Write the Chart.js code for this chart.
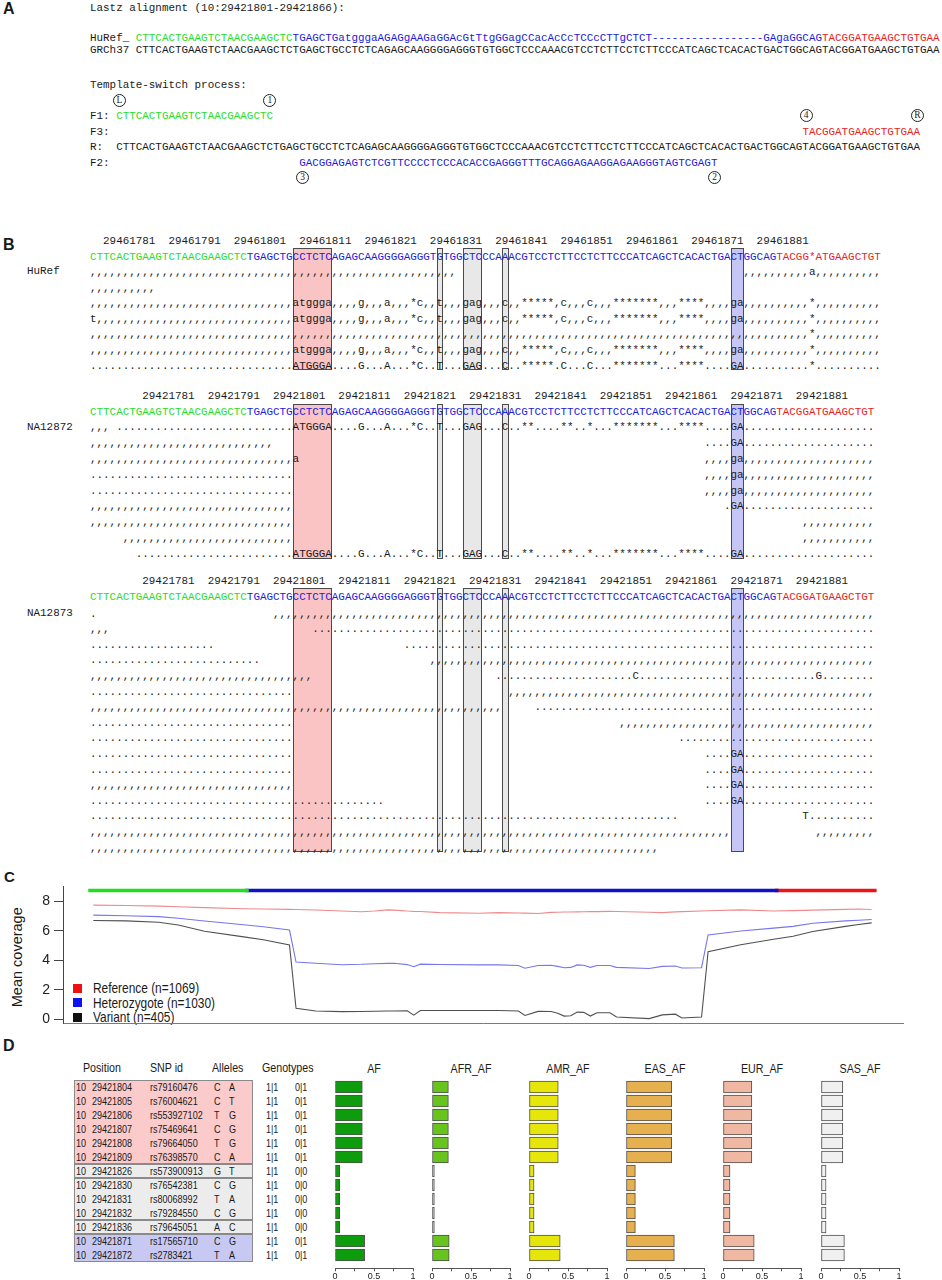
<!DOCTYPE html>
<html><head><meta charset="utf-8">
<script src="https://cdn.jsdelivr.net/npm/chart.js@4.4.1/dist/chart.umd.min.js"></script>
<style>
html,body{margin:0;padding:0;background:#fff;}
body{width:942px;height:1280px;position:relative;overflow:hidden;}
.t{position:absolute;white-space:pre;font-family:"Liberation Mono","DejaVu Sans Mono",monospace;font-size:10.9px;line-height:14px;color:#1a1a1a;z-index:2;}
.s{position:absolute;white-space:nowrap;font-family:"Liberation Sans",Arial,sans-serif;color:#1a1a1a;z-index:2;}
.box{position:absolute;box-sizing:border-box;z-index:1;}
.circ{position:absolute;width:13px;height:13px;border:1px solid #222;border-radius:50%;box-sizing:border-box;font:9.5px "Liberation Serif",serif;text-align:center;line-height:11px;color:#222;z-index:2;}
canvas{position:absolute;z-index:3;}
</style></head><body>
<script>
// ---------------- DATA ----------------
// Panel A
const lastzTitle = 'Lastz alignment (10:29421801-29421866):';
const hurefLeft = 'CTTCACTGAAGTCTAACGAAGCTC';
const hurefMid = 'TGAGCTGatgggaAGAGgAAGaGGAcGtTtgGGagCCacAcCcTCCcCTTgCTCT-----------------GAgaGGCAG';
const hurefRight = 'TACGGATGAAGCTGTGAA';
const grch37Seq = 'CTTCACTGAAGTCTAACGAAGCTCTGAGCTGCCTCTCAGAGCAAGGGGAGGGTGTGGCTCCCAAACGTCCTCTTCCTCTTCCCATCAGCTCACACTGACTGGCAGTACGGATGAAGCTGTGAA';
const f1Seq = 'CTTCACTGAAGTCTAACGAAGCTC';
const f3Seq = 'TACGGATGAAGCTGTGAA';
const f2Seq = 'GACGGAGAGTCTCGTTCCCCTCCCACACCGAGGGTTTGCAGGAGAAGGAGAAGGGTAGTCGAGT';
const f3Col = 105, f2Col = 28;
const circleMarks = [['L',0,100],['1',23,100],['4',105,115],['R',122,115],['3',28,177],['2',91,177]];

// Panel B
const refLeft = 'CTTCACTGAAGTCTAACGAAGCTC';
const refMid = 'TGAGCTGCCTCTCAGAGCAAGGGGAGGGTGTGGCTCCCAAACGTCCTCTTCCTCTTCCCATCAGCTCACACTGACTGGCAG';
const refRightHuRef = 'TACGG*ATGAAGCTGT';
const refRightNA = 'TACGGATGAAGCTGT';
const hurefTicks = [29461781,29461791,29461801,29461811,29461821,29461831,29461841,29461851,29461861,29461871,29461881];
const naTicks = [29421781,29421791,29421801,29421811,29421821,29421831,29421841,29421851,29421861,29421871,29421881];
const boxCols = [[31,6,'#fbc4c4'],[53,1,'#e8e8e8'],[57,3,'#e8e8e8'],[63,1,'#e8e8e8'],[98,2,'#c6c6f6']];
const r = (c,n) => c.repeat(n);
const midLower = ',,,,g,,,a,,,*c,,t,,,gag,,,c,,*****,c,,,c,,,*******,,,****,,,,ga';
const midUpper = '....G...A...*C..T...GAG...C..*****.C...C...*******...****....GA';
const midNA = '....G...A...*C..T...GAG...C..**....**..*...*******...****....GA';
const hurefRows = [
  r(',',56)+r(' ',44)+r(',',10)+'a'+r(',',10),
  r(',',10),
  r(',',31)+'atggga'+midLower+r(',',10)+'*'+r(',',10),
  't'+r(',',30)+'atggga'+midLower+r(',',10)+'*'+r(',',10),
  r(',',110)+'*'+r(',',10),
  r(',',31)+'atggga'+midLower+r(',',10)+'*'+r(',',10),
  r('.',31)+'ATGGGA'+midUpper+r('.',10)+'*'+r('.',10)
];
const na12872Rows = [
  ',,, '+r('.',27)+'ATGGGA'+midNA+r('.',20),
  r(',',28)+r(' ',66)+'....GA'+r('.',20),
  r(',',31)+'a'+r(' ',62)+',,,,ga'+r(',',20),
  r('.',31)+r(' ',63)+',,,,ga'+r(',',20),
  r('.',31)+r(' ',63)+',,,,ga'+r(',',20),
  r(',',31)+r(' ',66)+'.GA'+r('.',20),
  r(',',31)+r(' ',78)+r(',',11),
  r(' ',5)+r(',',26)+r(' ',78)+r(',',11),
  r(' ',7)+r('.',24)+'ATGGGA'+midNA+r('.',20)
];
const na12873Rows = [
  '.'+r(' ',27)+r(',',92),
  ',,,'+r(' ',31)+r('.',86),
  r('.',19)+r(' ',29)+r('.',72),
  r('.',26)+r(' ',26)+r(',',68),
  r(',',34)+r(' ',28)+r('.',21)+'C'+r('.',27)+'G'+r('.',8),
  r('.',31)+r(' ',33)+r(',',56),
  r(',',63)+r(' ',5)+r('.',52),
  r('.',31)+r(' ',50)+r(',',39),
  r('.',31)+r(' ',59)+r('.',30),
  r('.',31)+r(' ',63)+'....GA'+r('.',20),
  r('.',31)+r(' ',63)+'....GA'+r('.',20),
  r(',',31)+r(' ',63)+'....GA'+r('.',20),
  r('.',45)+r(' ',49)+'....GA'+r('.',20),
  r('.',90)+r(' ',19)+'T'+r('.',10),
  r(',',98)+r(' ',13)+r(',',9),
  r(',',87)
];

// Panel C (x = base offset from 29421781)
const covOffsets = [0,5,10,13,17,23,26,30,31,34,38,41,43,45,46,48,49,50,53,59,62,65,66,68,70,71,72,73,74,75,76,77,79,80,85,87,89,90,93,94,99,104,107,110,115,117,119];
const refCov = [7.73,7.71,7.66,7.62,7.56,7.49,7.47,7.44,7.43,7.40,7.33,7.28,7.33,7.41,7.39,7.33,7.31,7.30,7.22,7.18,7.22,7.20,7.19,7.16,7.24,7.25,7.26,7.26,7.27,7.28,7.29,7.29,7.31,7.30,7.25,7.22,7.27,7.29,7.33,7.35,7.41,7.33,7.36,7.39,7.44,7.47,7.43];
const hetCov = [7.05,7.01,6.95,6.84,6.65,6.40,6.26,6.04,3.87,3.79,3.69,3.72,3.76,3.78,3.79,3.70,3.56,3.73,3.71,3.68,3.68,3.64,3.45,3.64,3.66,3.58,3.49,3.51,3.68,3.66,3.51,3.64,3.64,3.51,3.43,3.58,3.60,3.47,3.49,5.71,5.98,6.17,6.29,6.50,6.66,6.71,6.76];
const varCov = [6.69,6.66,6.57,6.38,5.96,5.58,5.38,5.03,0.74,0.55,0.51,0.52,0.54,0.55,0.55,0.57,0.27,0.59,0.59,0.59,0.59,0.55,0.25,0.53,0.52,0.40,0.21,0.23,0.48,0.46,0.21,0.44,0.44,0.15,0.04,0.29,0.34,0.08,0.15,4.57,5.05,5.42,5.62,5.94,6.29,6.42,6.53];
const segLengths = [24, 81, 15];
const segColors = ['#22dd22', '#1010c8', '#ee1414'];
const segBarLevel = 8.73;
const legendLabels = ['Reference (n=1069)','Heterozygote (n=1030)','Variant (n=405)'];
const legendColors = ['#ee1111','#1111ee','#111111'];
const lineColors = ['#ee8a8a','#7676ee','#505050'];
const yTicksC = [0,2,4,6,8];

// Panel D
const snpPos = [29421804,29421805,29421806,29421807,29421808,29421809,29421826,29421830,29421831,29421832,29421836,29421871,29421872];
const snpIds = ['rs79160476','rs76004621','rs553927102','rs75469641','rs79664050','rs76398570','rs573900913','rs76542381','rs80068992','rs79284550','rs79645051','rs17565710','rs2783421'];
const refAl = ['C','C','T','C','T','C','G','C','T','C','A','C','T'];
const altAl = ['A','T','G','G','G','A','T','G','A','G','C','G','A'];
const gt1 = ['1|1','1|1','1|1','1|1','1|1','1|1','1|1','1|1','1|1','1|1','1|1','1|1','1|1'];
const gt2 = ['0|1','0|1','0|1','0|1','0|1','0|1','0|0','0|0','0|0','0|0','0|0','0|1','0|1'];
const snpGroups = [[0,6,'#fbcaca'],[6,1,'#ececec'],[7,3,'#ececec'],[10,1,'#ececec'],[11,2,'#c7c9f3']];
const afNames = ['AF','AFR_AF','AMR_AF','EAS_AF','EUR_AF','SAS_AF'];
const afColors = ['#0c9c0c','#66c41c','#e6e60a','#e6b04e','#f0b8a2','#f0f0f0'];
const afAll = [0.35,0.35,0.35,0.35,0.35,0.35,0.06,0.06,0.06,0.06,0.06,0.38,0.38];
const afAfr = [0.21,0.21,0.21,0.21,0.21,0.21,0.03,0.03,0.03,0.03,0.03,0.22,0.22];
const afAmr = [0.375,0.375,0.375,0.375,0.375,0.375,0.065,0.065,0.065,0.065,0.065,0.40,0.40];
const afEas = [0.585,0.585,0.585,0.585,0.585,0.585,0.12,0.12,0.12,0.12,0.12,0.62,0.62];
const afEur = [0.37,0.37,0.37,0.37,0.37,0.37,0.09,0.09,0.09,0.09,0.09,0.40,0.40];
const afSas = [0.28,0.28,0.28,0.28,0.28,0.28,0.065,0.065,0.065,0.065,0.065,0.30,0.30];
const afSeries = [afAll, afAfr, afAmr, afEas, afEur, afSas];

// ---------------- DRAW ----------------
const root = document.body;
const CW = 6.54, X0 = 90;
const GREEN = '#2bdc2b', BLUE = '#1c1cd8', RED = '#e82222', INK = '#1a1a1a';
const SANS = '"Liberation Sans",Arial,sans-serif';

function mono(x, yc, parts) {
  const d = document.createElement('div');
  d.className = 't';
  d.style.left = x + 'px';
  d.style.top = (yc - 6.3) + 'px';
  if (typeof parts === 'string') parts = [[parts, INK]];
  for (const [s, c] of parts) { const sp = document.createElement('span'); sp.textContent = s; sp.style.color = c; d.appendChild(sp); }
  root.appendChild(d);
}
function sans(x, yc, text, fs, o = {}) {
  const d = document.createElement('div');
  d.className = 's';
  d.style.fontSize = fs + 'px'; d.style.lineHeight = fs + 'px';
  d.style.top = (yc - 0.49 * fs) + 'px';
  if (o.bold) d.style.fontWeight = 'bold';
  const tf = [];
  if (o.center) { d.style.left = (x - 100) + 'px'; d.style.width = '200px'; d.style.textAlign = 'center'; d.style.transformOrigin = 'center center'; }
  else { d.style.left = x + 'px'; d.style.transformOrigin = 'left center'; }
  if (o.rotate) tf.push('rotate(-90deg)');
  if (o.narrow) tf.push('scaleX(' + o.narrow + ')');
  if (tf.length) d.style.transform = tf.join(' ');
  d.textContent = text;
  root.appendChild(d);
  return d;
}
function rect(x, y, w, h, fill, border, bw) {
  const d = document.createElement('div');
  d.className = 'box';
  Object.assign(d.style, { left: x + 'px', top: y + 'px', width: w + 'px', height: h + 'px', background: fill, border: bw + 'px solid ' + border });
  root.appendChild(d);
}
function circ(ch, col, yc) {
  const d = document.createElement('div');
  d.className = 'circ';
  d.style.left = (X0 + (4 + col + 0.5) * CW - 6.5) + 'px';
  d.style.top = (yc - 6.5) + 'px';
  d.textContent = ch;
  root.appendChild(d);
}

// Panel labels
sans(3, 9, 'A', 16, {bold: true});
sans(3, 245, 'B', 16, {bold: true});
sans(4, 876, 'C', 15, {bold: true});
sans(3, 1046, 'D', 16, {bold: true});

// Panel A
mono(X0, 7, lastzTitle);
mono(X0, 37.3, [['HuRef_ ', INK], [hurefLeft, GREEN], [hurefMid, BLUE], [hurefRight, RED]]);
mono(X0, 49.3, 'GRCh37 ' + grch37Seq);
mono(X0, 84.3, 'Template-switch process:');
mono(X0, 115.7, [['F1: ', INK], [f1Seq, GREEN]]);
mono(X0, 131.7, [['F3: ', INK], [' '.repeat(f3Col), INK], [f3Seq, RED]]);
mono(X0, 146.7, 'R:  ' + grch37Seq);
mono(X0, 162.7, [['F2: ', INK], [' '.repeat(f2Col), INK], [f2Seq, BLUE]]);
circleMarks.forEach(([c, col, y]) => circ(c, col, y));

// Panel B
function block(cfg) {
  let tickStr = ' '.repeat(cfg.tickCol) + cfg.ticks.map(String).join('  ');
  mono(X0, cfg.tickY, tickStr);
  const top = cfg.refY - 8;
  const bottom = cfg.rowY0 + (cfg.rows.length - 1) * cfg.pitch + 5.5;
  for (const [c, n, fill] of boxCols) rect(X0 + c * CW, top, n * CW, bottom - top, fill, '#4a4a4a', 1.5);
  mono(X0, cfg.refY, [[refLeft, GREEN], [refMid, BLUE], [cfg.refRight, RED]]);
  mono(27, cfg.labelY, cfg.label);
  cfg.rows.forEach((row, i) => mono(X0, cfg.rowY0 + i * cfg.pitch, row));
}
block({ticks: hurefTicks, tickCol: 2, tickY: 240, refY: 256, refRight: refRightHuRef, label: 'HuRef', labelY: 270, rows: hurefRows, rowY0: 271.3, pitch: 15.6});
block({ticks: naTicks, tickCol: 8, tickY: 395, refY: 411.5, refRight: refRightNA, label: 'NA12872', labelY: 426.5, rows: na12872Rows, rowY0: 426.7, pitch: 15.8});
block({ticks: naTicks, tickCol: 8, tickY: 580, refY: 596, refRight: refRightNA, label: 'NA12873', labelY: 612, rows: na12873Rows, rowY0: 612.9, pitch: 15.6});

// Panel C
const cvC = document.createElement('canvas');
cvC.width = 942; cvC.height = 162;
cvC.style.left = '0px'; cvC.style.top = '874px';
root.appendChild(cvC);
const segDatasets = [];
let segStart = -0.5;
segLengths.forEach((len, i) => {
  segDatasets.push({data: [{x: segStart, y: segBarLevel}, {x: segStart + len, y: segBarLevel}], borderColor: segColors[i], borderWidth: 3.5, borderCapStyle: 'square', pointRadius: 0});
  segStart += len;
});
const covSeries = [refCov, hetCov, varCov];
const covDatasets = covSeries.map((vals, i) => ({
  data: covOffsets.map((x, j) => ({x, y: vals[j]})),
  borderColor: lineColors[i], borderWidth: 1.1, pointRadius: 0, tension: 0
}));
new Chart(cvC, {
  type: 'line',
  data: {datasets: [...segDatasets, ...covDatasets]},
  options: {
    responsive: false, animation: false, devicePixelRatio: 1,
    layout: {padding: {left: 35, right: 39, top: 10, bottom: 5}},
    plugins: {legend: {display: false}, tooltip: {enabled: false}},
    scales: {
      x: {type: 'linear', min: -4.63, max: 123.8, ticks: {display: false}, grid: {display: false},
          border: {display: true, color: '#7a7a7a', width: 1}, afterFit(s) { s.height = 0; }},
      y: {type: 'linear', min: -0.3, max: 9.0,
          afterBuildTicks(s) { s.ticks = yTicksC.map(v => ({value: v})); },
          ticks: {font: {family: SANS, size: 14}, color: '#222', padding: 4},
          grid: {drawOnChartArea: false, drawTicks: true, tickLength: 9, color: '#444'},
          border: {display: true, color: '#444', width: 1}, afterFit(s) { s.width = 28; }}
    }
  }
});
sans(17, 957, 'Mean coverage', 14.5, {center: true, rotate: true});
legendLabels.forEach((lab, i) => {
  const y = 988.3 + i * 14.5;
  rect(72.7, y - 4.5, 9, 9, legendColors[i], legendColors[i], 0);
  sans(93, y, lab, 14.5, {narrow: 0.82});
});

// Panel D table
const rowY = i => 1087 + 14 * i;
snpGroups.forEach(([s, n, fill]) => rect(74.3, 1079.6 + 14 * s, 179, 14 * n, fill, '#8a8a8a', 1));
const NW = 0.82;
sans(83, 1067, 'Position', 13, {narrow: NW});
sans(150, 1067, 'SNP id', 13, {narrow: NW});
sans(211.7, 1067, 'Alleles', 13, {narrow: NW});
sans(261.7, 1067, 'Genotypes', 13, {narrow: NW});
snpPos.forEach((p, i) => {
  const y = rowY(i);
  sans(76, y, '10', 11, {narrow: NW});
  sans(91.7, y, String(p), 11, {narrow: NW});
  sans(150, y, snpIds[i], 11, {narrow: NW});
  sans(214.3, y, refAl[i], 11, {narrow: NW});
  sans(229.3, y, altAl[i], 11, {narrow: NW});
  sans(266, y, gt1[i], 11, {narrow: NW});
  sans(295, y, gt2[i], 11, {narrow: NW});
});

// Panel D bars
afSeries.forEach((vals, k) => {
  const zero = Math.round(335 + 97.1 * k);
  const cv = document.createElement('canvas');
  cv.width = 102; cv.height = 205;
  cv.style.left = (zero - 12) + 'px'; cv.style.top = '1075px';
  root.appendChild(cv);
  sans(zero + 39, 1068, afNames[k], 13, {center: true, narrow: NW});
  new Chart(cv, {
    type: 'bar',
    data: {datasets: [{data: vals.map((v, i) => ({x: v, y: i})), backgroundColor: afColors[k], borderColor: '#4e4e4e', borderWidth: 1, barThickness: 12, borderSkipped: false}]},
    options: {
      indexAxis: 'y', responsive: false, animation: false, devicePixelRatio: 1,
      layout: {padding: {left: 12, right: 12, top: 5, bottom: 0}},
      plugins: {legend: {display: false}, tooltip: {enabled: false}},
      scales: {
        y: {type: 'linear', min: -0.5, max: 12.95, reverse: true, display: false, offset: false},
        x: {type: 'linear', min: 0, max: 1, offset: false,
            afterBuildTicks(s) { s.ticks = [0, 0.25, 0.5, 0.75, 1].map(v => ({value: v})); },
            ticks: {autoSkip: false, maxRotation: 0, padding: 0, font: {family: SANS, size: 9}, color: '#222',
                    callback: v => (v === 0 ? '0' : v === 0.5 ? '0.5' : v === 1 ? '1' : '')},
            grid: {drawOnChartArea: false, drawTicks: true, tickLength: 3, color: '#555'},
            border: {display: true, color: '#555', width: 1},
            afterFit(s) { s.height = 11.7; }}
      }
    }
  });
});
</script>
</body></html>
